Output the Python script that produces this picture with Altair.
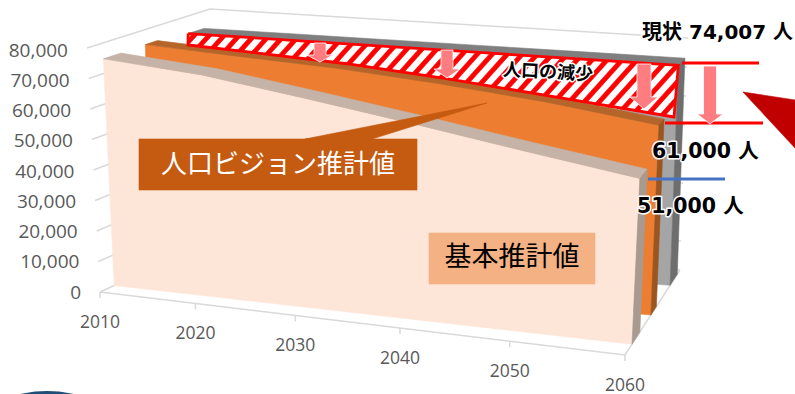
import altair as alt

# Population series (persons) at each census year
years = [2010, 2020, 2030, 2040, 2050, 2060]
base_estimate = [74800, 72050, 67200, 62000, 56400, 51000]
vision_estimate = [75000, 73300, 71700, 69100, 65700, 61000]
current_level = [74007, 74007, 74007, 74007, 74007, 74007]

value_ticks = [0, 10000, 20000, 30000, 40000, 50000, 60000, 70000, 80000]
value_labels = ["0", "10,000", "20,000", "30,000", "40,000", "50,000", "60,000", "70,000", "80,000"]
year_labels = ["2010", "2020", "2030", "2040", "2050", "2060"]


def lerp(a, b, f):
    return a + (b - a) * f


def project(year, value, depth):
    """Oblique perspective of the 3-D area chart box onto the page."""
    t = (year - 2010) / 50
    u = t / (t + 1.125 * (1 - t)) if t > 0 else 0.0
    v = value / 80000
    fbl, fbr, bbl, bbr = (100, 292), (625, 355), (212, 241), (680, 270)
    ftl, ftr, btl, btr = (87, 48), (638, 91), (210, 9), (688, 38)
    out = []
    for i in (0, 1):
        bottom = lerp(lerp(fbl[i], fbr[i], u), lerp(bbl[i], bbr[i], u), depth)
        top = lerp(lerp(ftl[i], ftr[i], u), lerp(btl[i], btr[i], u), depth)
        out.append(lerp(bottom, top, v))
    return tuple(out)


x_scale = alt.Scale(domain=[0, 795], nice=False, zero=False)
y_scale = alt.Scale(domain=[394, 0], nice=False, zero=False)
layers = []


def add_shapes(shapes, color, stroke=None, stroke_width=0.6):
    rows = []
    for sid, pts in enumerate(shapes):
        closed = list(pts) + [pts[0]]
        rows += [{"s": sid, "i": i, "x": p[0], "y": p[1]} for i, p in enumerate(closed)]
    layers.append(
        alt.Chart(alt.Data(values=rows))
        .mark_line(fill=color, stroke=stroke or color, strokeWidth=stroke_width, strokeJoin="miter", fillOpacity=1)
        .encode(
            x=alt.X("x:Q", scale=x_scale, axis=None),
            y=alt.Y("y:Q", scale=y_scale, axis=None),
            detail="s:N",
            order="i:Q",
        )
    )


def add_lines(paths, color, width):
    rows = []
    for sid, pts in enumerate(paths):
        rows += [{"s": sid, "i": i, "x": p[0], "y": p[1]} for i, p in enumerate(pts)]
    layers.append(
        alt.Chart(alt.Data(values=rows))
        .mark_line(stroke=color, strokeWidth=width, strokeCap="butt")
        .encode(
            x=alt.X("x:Q", scale=x_scale, axis=None),
            y=alt.Y("y:Q", scale=y_scale, axis=None),
            detail="s:N",
            order="i:Q",
        )
    )


def add_text(text, x, y, size, color="#000000", align="center", weight="normal",
             font="Noto Sans CJK JP", halo=0, angle=0):
    row = [{"t": text, "x": x, "y": y}]
    enc = dict(
        x=alt.X("x:Q", scale=x_scale, axis=None),
        y=alt.Y("y:Q", scale=y_scale, axis=None),
        text="t:N",
    )
    common = dict(fontSize=size, font=font, fontWeight=weight, align=align, baseline="middle", angle=angle)
    if halo:
        layers.append(
            alt.Chart(alt.Data(values=row))
            .mark_text(color="white", stroke="white", strokeWidth=halo, strokeJoin="round", **common)
            .encode(**enc)
        )
    layers.append(alt.Chart(alt.Data(values=row)).mark_text(color=color, **common).encode(**enc))


def add_series(values, d0, d1, face, top, side):
    front = [project(y, v, d0) for y, v in zip(years, values)]
    back = [project(y, v, d1) for y, v in zip(years, values)]
    last_y, last_v = years[-1], values[-1]
    add_shapes([front + [project(last_y, 0, d0), project(years[0], 0, d0)]], face)
    add_shapes([front + back[::-1]], top)
    add_shapes([[project(last_y, last_v, d0), project(last_y, last_v, d1),
                 project(last_y, 0, d1), project(last_y, 0, d0)]], side)


def clip_convex(poly, clipper):
    """Sutherland-Hodgman clip of a polygon against a clockwise convex outline."""
    out = list(poly)
    for k in range(len(clipper)):
        a, b = clipper[k], clipper[(k + 1) % len(clipper)]
        inside = lambda p: (b[0] - a[0]) * (p[1] - a[1]) - (b[1] - a[1]) * (p[0] - a[0]) >= 0
        src, out = out, []
        for j in range(len(src)):
            p, q = src[j], src[(j + 1) % len(src)]
            if inside(p):
                out.append(p)
            if inside(p) != inside(q):
                d1 = (b[0] - a[0]) * (p[1] - a[1]) - (b[1] - a[1]) * (p[0] - a[0])
                d2 = (b[0] - a[0]) * (q[1] - a[1]) - (b[1] - a[1]) * (q[0] - a[0])
                f = d1 / (d1 - d2)
                out.append((p[0] + (q[0] - p[0]) * f, p[1] + (q[1] - p[1]) * f))
        if not out:
            return []
    return out


def arrow(cx, top, tip, shaft, head, head_len):
    return [(cx - shaft, top), (cx + shaft, top), (cx + shaft, tip - head_len), (cx + head, tip - head_len),
            (cx, tip), (cx - head, tip - head_len), (cx - shaft, tip - head_len)]


# Walls and floor of the chart box
grid = "#D9D9D9"
add_lines([[project(2010, v, 0), project(2010, v, 1), project(2060, v, 1)] for v in value_ticks], grid, 1.5)
add_lines([[project(2010, 0, 0), project(2060, 0, 0), project(2060, 0, 1)]], grid, 1.5)
add_lines([[project(y, 0, 0), (project(y, 0, 0)[0], project(y, 0, 0)[1] + 6)] for y in years], grid, 1.5)

# Three area series, back to front
add_series(current_level, 0.82, 0.95, "#A5A5A5", "#7F7F7F", "#6E6E6E")

# Hatched gap between the current level and the vision estimate
gap_top = [project(2010, 74007, 0.82), project(2060, 74007, 0.82)]
gap_right, gap_left = (674, 117), (188, 45)
gap = gap_top + [gap_right, gap_left]
add_shapes([gap], "#FFFFFF", "#FFFFFF")
stripes = []
for c in range(100, 720, 15):
    band = [(c, 120), (c + 6, 120), (c + 6 + 90, 20), (c + 90, 20)]
    piece = clip_convex(band, gap)
    if piece:
        stripes.append(piece)
add_shapes(stripes, "#FF0000")

add_series(vision_estimate, 0.47, 0.57, "#ED7D31", "#B5652A", "#9A5520")
add_series(base_estimate, 0.127, 0.27, "#FDE5D8", "#C4B3A6", "#A99A8F")

# Red outline of the gap follows the rear edge of the vision estimate
rear_edge = [project(y, v, 0.57) for y, v in zip(years[1:-1], vision_estimate[1:-1])]
add_lines([gap_top + [gap_right] + rear_edge[::-1] + [gap_left, gap_top[0]]], "#FF0000", 2.8)

# Reduction arrows
pink = "#FF7C80"
add_shapes([arrow(320, 43, 62, 6, 13, 7)], pink, "#FFFFFF", 0.8)
add_shapes([arrow(447, 50, 78, 6, 13, 9)], pink, "#FFFFFF", 0.8)
add_shapes([arrow(644, 64, 109, 7, 14, 12)], pink, "#FFFFFF", 0.8)

# Bracket between the current level and the 2060 target
add_lines([[(682, 63), (759, 63)], [(665, 123), (763, 123)]], "#FF0000", 3)
add_shapes([arrow(710, 66, 124, 6.5, 13, 10)], pink, "#FFFFFF", 0.8)
add_lines([[(648, 179), (725, 179)]], "#4472C4", 3)

# Callout boxes
add_shapes([[(305, 139), (372, 139), (487, 103)]], "#C55A11")
add_shapes([[(139, 139), (417, 139), (417, 190), (139, 190)]], "#C55A11")
add_text("人口ビジョン推計値", 278, 165, 26, color="#FFFFFF")
add_shapes([[(429, 233), (595, 233), (595, 284), (429, 284)]], "#F4B183")
add_text("基本推計値", 512, 258, 27)

add_text("人口の減少", 548, 73, 18, weight="bold", halo=3, angle=3)

# Pointer at the right edge and the badge at the lower left
add_shapes([[(743, 92), (795, 100), (795, 148)]], "#C00000")
layers.append(
    alt.Chart(alt.Data(values=[{"x": 47, "y": 514}]))
    .mark_circle(size=60500, color="#1F4E79", opacity=1)
    .encode(x=alt.X("x:Q", scale=x_scale, axis=None), y=alt.Y("y:Q", scale=y_scale, axis=None))
)

# Value labels
latin = "DejaVu Sans, Noto Sans CJK JP"
add_text("現状 74,007 人", 642, 33, 20, weight="bold", align="left", font=latin, halo=3)
add_text("61,000 人", 652, 152, 20.5, weight="bold", align="left", font=latin, halo=3)
add_text("51,000 人", 637, 207, 20.5, weight="bold", align="left", font=latin, halo=3)

# Axis labels
for v, label in zip(value_ticks, value_labels):
    px, py = project(2010, v, 0)
    add_text(label, px - 19, py + 0.5 + 2 * v / 80000, 19, color="#595959", align="right", font="Open Sans")
for y, label in zip(years, year_labels):
    px, py = project(y, 0, 0)
    add_text(label, px, py + 30.5, 17.5, color="#595959", font="Open Sans")

chart = (
    alt.layer(*layers)
    .properties(width=795, height=394, padding=0, autosize="none", background="#FFFFFF")
    .configure_view(stroke=None)
)
chart.save("out.html", embed_options={"renderer": "svg", "actions": False})
